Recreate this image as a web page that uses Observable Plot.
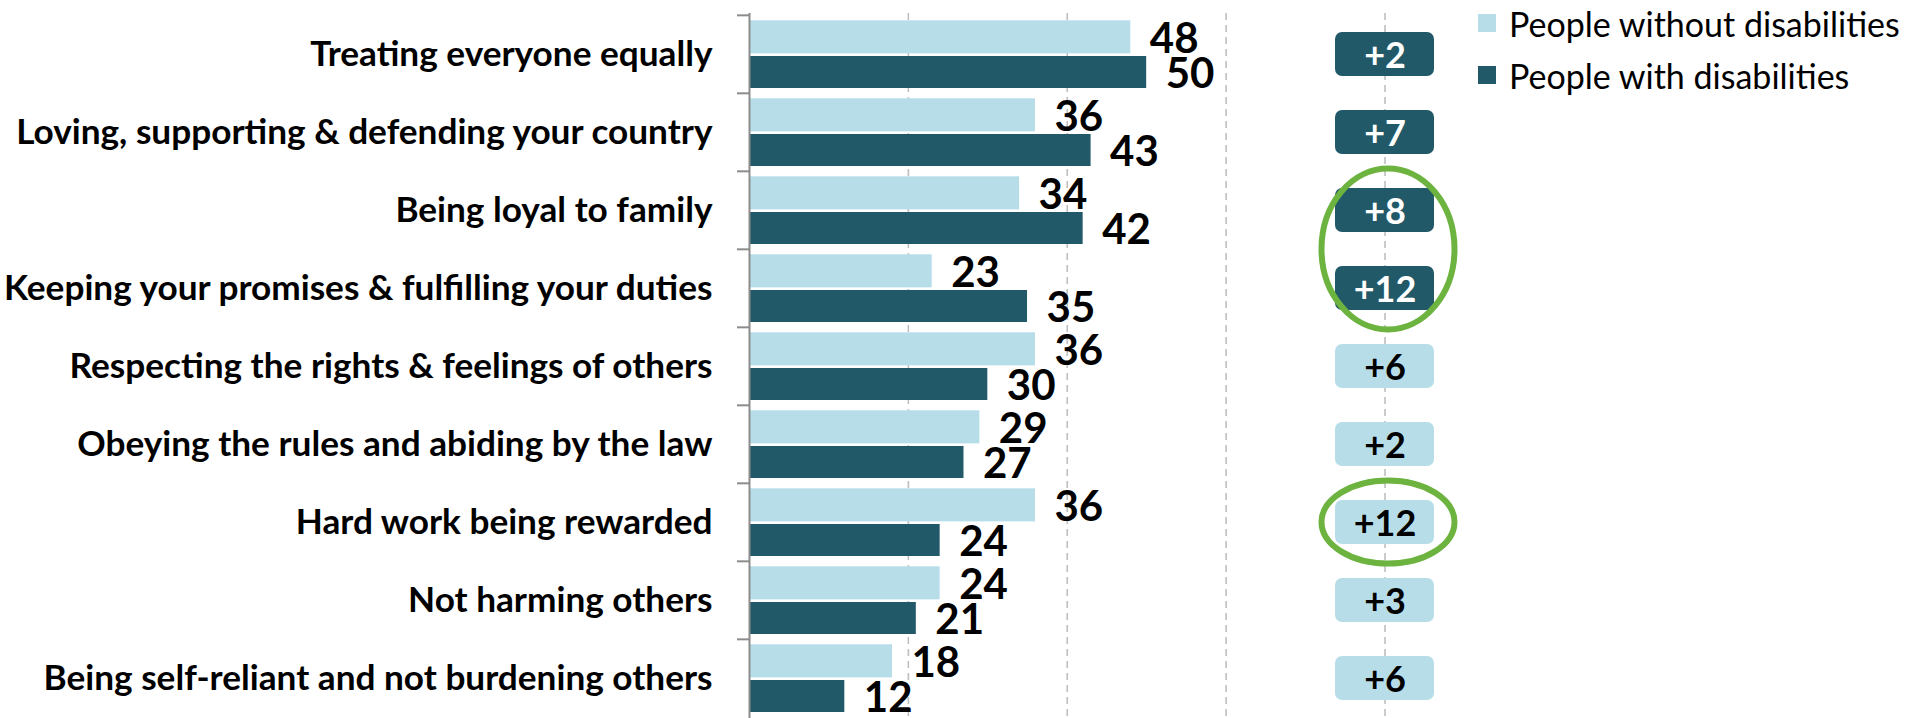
<!DOCTYPE html>
<html>
<head>
<meta charset="utf-8">
<script src="https://cdn.jsdelivr.net/npm/d3@7"></script>
<script src="https://cdn.jsdelivr.net/npm/@observablehq/plot@0.6"></script>
<style>
  html, body { margin: 0; padding: 0; background: #fff; overflow: hidden; }
  #wrap { position: relative; width: 1911px; height: 718px; }
  #chart svg { display: block; }
  #legend { position: absolute; left: 1478px; top: 0; font-family: Lato, "Open Sans", sans-serif; font-size: 34px; color: #000; }
  .lg-row { position: absolute; left: 0; height: 52px; display: flex; align-items: center; white-space: nowrap; }
  .lg-sw { width: 18px; height: 18px; margin-right: 13px; flex: none; }
</style>
</head>
<body>
<div id="wrap"><div id="chart"></div><div id="legend"></div></div>
<script>
// ---- data ----
const categories = [
  "Treating everyone equally",
  "Loving, supporting & defending your country",
  "Being loyal to family",
  "Keeping your promises & fulfilling your duties",
  "Respecting the rights & feelings of others",
  "Obeying the rules and abiding by the law",
  "Hard work being rewarded",
  "Not harming others",
  "Being self-reliant and not burdening others"
];
const withoutDisabilities = [48, 36, 34, 23, 36, 29, 36, 24, 18];
const withDisabilities    = [50, 43, 42, 35, 30, 27, 24, 21, 12];
const seriesNames = ["People without disabilities", "People with disabilities"];
const gridTicks = [20, 40, 60, 80];
const highlightGroups = [
  ["Being loyal to family", "Keeping your promises & fulfilling your duties"],
  ["Hard work being rewarded"]
];

// ---- styles ----
const LIGHT = "#B7DEE8", DARK = "#215968", GREEN = "#6CB33F";
const W = 1911, H = 718, MT = 13, MB = 0, ML = 749, XMAX = 80;
const MR = 526.5;
const step = (H - MT - MB) / categories.length;

const rows = categories.map((c, i) => ({
  category: c,
  without: withoutDisabilities[i],
  with: withDisabilities[i],
  gap: "+" + Math.abs(withDisabilities[i] - withoutDisabilities[i]),
  withHigher: withDisabilities[i] > withoutDisabilities[i]
}));

const barTop = 5.3, barH1 = 33.4, barGap = 2.3, barBottom = 5;
const boxH = 44.5;

function ellipses(index, scales) {
  const g = d3.create("svg:g");
  const x = scales.x, y = scales.y;
  const bw = y.bandwidth ? y.bandwidth() : step;
  for (const grp of highlightGroups) {
    const top = y(grp[0]);
    const bottom = y(grp[grp.length - 1]) + bw;
    g.append("ellipse")
      .attr("cx", x(XMAX) + 3.5)
      .attr("cy", (top + bottom) / 2)
      .attr("rx", 66.5)
      .attr("ry", (bottom - top) / 2 + 2.5)
      .attr("fill", "none")
      .attr("stroke", GREEN)
      .attr("stroke-width", 6);
  }
  return g.node();
}

const plot = Plot.plot({
  width: W, height: H,
  marginTop: MT, marginBottom: MB, marginLeft: ML, marginRight: MR,
  style: { fontFamily: "Lato, 'Open Sans', sans-serif", background: "#fff", color: "#000", overflow: "visible" },
  x: { domain: [0, XMAX], axis: null },
  y: { domain: categories, padding: 0, axis: null },
  marks: [
    Plot.ruleX(gridTicks, { stroke: "#BFBFBF", strokeWidth: 1.6, strokeDasharray: "7,5" }),
    Plot.barX(rows, { x: "without", y: "category", fill: LIGHT,
      insetTop: barTop, insetBottom: step - barTop - barH1 }),
    Plot.barX(rows, { x: "with", y: "category", fill: DARK,
      insetTop: barTop + barH1 + barGap, insetBottom: barBottom }),
    Plot.ruleX([0], { stroke: "#8C8C8C", strokeWidth: 2 }),
    Plot.ruleY(categories, { y: d => d, x1: 0, x2: 0, dy: -step / 2, insetLeft: -12, insetRight: 0, stroke: "#8C8C8C", strokeWidth: 2 }),
    Plot.axisY({ tickSize: 0, tickPadding: 37, fontSize: 35.2, fontWeight: "bold", label: null }),
    Plot.text(rows, { x: "without", y: "category", text: d => String(d.without), dx: 19, dy: -15,
      textAnchor: "start", fontSize: 42, fontWeight: "bold", fill: "#000" }),
    Plot.text(rows, { x: "with", y: "category", text: d => String(d.with), dx: 19, dy: 20,
      textAnchor: "start", fontSize: 42, fontWeight: "bold", fill: "#000" }),
    Plot.barX(rows, { x1: XMAX, x2: XMAX, y: "category", fill: d => d.withHigher ? DARK : LIGHT,
      insetLeft: -49.5, insetRight: -49.5, insetTop: (step - boxH) / 2, insetBottom: (step - boxH) / 2, rx: 7 }),
    Plot.text(rows, { x: XMAX, y: "category", text: "gap", dy: 2, fontSize: 36, fontWeight: "bold",
      fill: d => d.withHigher ? "#fff" : "#000" }),
    ellipses
  ]
});
document.getElementById("chart").appendChild(plot);

// legend
const legend = document.getElementById("legend");
[LIGHT, DARK].forEach((c, i) => {
  const row = document.createElement("div");
  row.className = "lg-row";
  row.style.top = (-3 + i * 52) + "px";
  const sw = document.createElement("span");
  sw.className = "lg-sw"; sw.style.background = c;
  const tx = document.createElement("span");
  tx.textContent = seriesNames[i];
  row.appendChild(sw); row.appendChild(tx);
  legend.appendChild(row);
});
</script>
</body>
</html>
